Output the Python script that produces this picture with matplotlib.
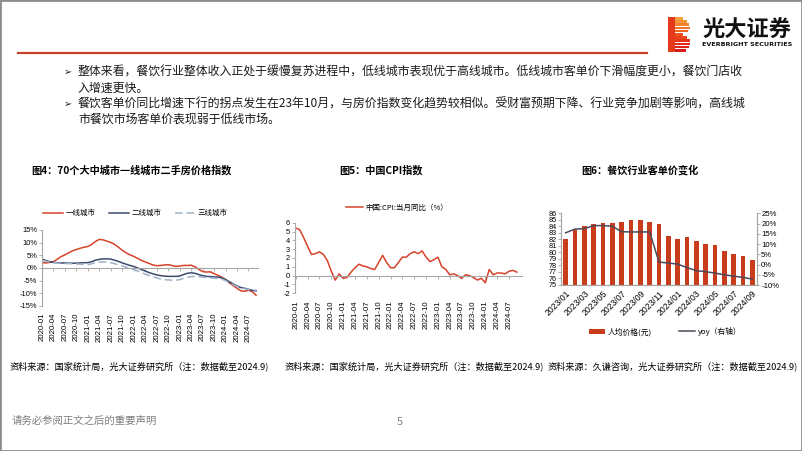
import numpy as np
import matplotlib.pyplot as plt
from matplotlib.lines import Line2D
from matplotlib.patches import Rectangle

plt.rcParams['font.family'] = ['Noto Sans CJK SC', 'DejaVu Sans']
plt.rcParams['axes.unicode_minus'] = False

W, H = 802, 451

# ---- 图4: 70城二手房价格指数 同比 (%) 2020-01 .. 2024-09
tier1 = [2.1, 2.0, 2.2, 2.5, 3.5, 4.5, 5.2, 6.0, 6.8, 7.3, 7.8, 8.2,
         8.5, 9.3, 10.5, 11.3, 11.1, 10.6, 10.1, 9.3, 8.2, 7.0, 6.0, 5.2,
         4.6, 3.8, 3.0, 2.4, 1.8, 1.2, 0.9, 1.0, 1.2, 1.3, 1.0, 0.6,
         0.8, 1.0, 1.0, 1.1, 0.5, -0.5, -1.4, -1.6, -1.5, -2.2, -2.9, -3.6,
         -4.5, -5.8, -7.0, -8.0, -9.0, -9.2, -8.8, -9.3, -10.8]
tier2 = [3.5, 3.0, 2.5, 2.2, 2.1, 2.0, 2.0, 1.9, 1.9, 1.9, 2.0, 2.1,
         2.1, 2.5, 3.1, 3.4, 3.6, 3.6, 3.5, 3.1, 2.6, 2.0, 1.5, 1.0,
         0.6, 0.0, -0.6, -1.2, -1.8, -2.3, -2.7, -3.0, -3.2, -3.3, -3.3, -3.3,
         -3.2, -2.6, -2.1, -1.9, -2.1, -2.6, -3.0, -3.3, -3.4, -3.5, -3.6, -3.9,
         -4.6, -5.4, -6.3, -7.1, -7.7, -8.0, -8.4, -8.8, -9.0]
tier3 = [3.0, 2.7, 2.4, 2.1, 2.0, 1.9, 1.8, 1.7, 1.7, 1.6, 1.5, 1.4,
         1.3, 1.7, 2.1, 2.3, 2.4, 2.3, 2.1, 1.7, 1.2, 0.8, 0.3, -0.2,
         -0.6, -1.2, -1.8, -2.4, -3.0, -3.5, -3.9, -4.3, -4.6, -4.7, -4.8, -4.8,
         -4.6, -4.1, -3.7, -3.4, -3.3, -3.4, -3.6, -3.8, -3.9, -4.0, -4.1, -4.4,
         -5.0, -5.8, -6.6, -7.3, -7.8, -8.2, -8.5, -8.9, -9.2]

# ---- 图5: 中国CPI当月同比 (%) 2020-01 .. 2024-09
cpi = [5.4, 5.2, 4.3, 3.3, 2.4, 2.5, 2.7, 2.4, 1.7, 0.5, -0.5, 0.2,
       -0.3, -0.2, 0.4, 0.9, 1.3, 1.1, 1.0, 0.8, 0.7, 1.5, 2.3, 1.5,
       0.9, 0.9, 1.5, 2.1, 2.1, 2.5, 2.7, 2.5, 2.8, 2.1, 1.6, 1.8,
       2.1, 1.0, 0.7, 0.1, 0.2, 0.0, -0.3, 0.1, 0.0, -0.2, -0.5, -0.3,
       -0.8, 0.7, 0.1, 0.3, 0.3, 0.2, 0.5, 0.6, 0.4]

quarter_labels = ['2020-01', '2020-04', '2020-07', '2020-10', '2021-01', '2021-04',
                  '2021-07', '2021-10', '2022-01', '2022-04', '2022-07', '2022-10',
                  '2023-01', '2023-04', '2023-07', '2023-10', '2024-01', '2024-04',
                  '2024-07']

# ---- 图6: 餐饮行业客单价 2023/01 .. 2024/09
price = [82.0, 83.5, 84.1, 84.4, 84.5, 84.5, 84.7, 85.0, 85.0, 84.7, 84.3,
         82.5, 82.1, 82.4, 81.7, 81.3, 81.1, 80.2, 79.8, 79.4, 78.9]
yoy = [15.5, 17.3, 17.5, 19.0, 19.0, 18.7, 16.0, 15.9, 15.9, 15.9, 1.2,
       0.7, 0.2, -1.5, -3.0, -3.5, -4.2, -5.0, -5.7, -6.3, -7.1]
month3_labels = ['2023/01', '2023/03', '2023/05', '2023/07', '2023/09', '2023/11',
                 '2024/01', '2024/03', '2024/05', '2024/07', '2024/09']

RED = '#D6422B'
NAVY = '#3C4A6B'
LBLUE = '#9DB3C9'
BAR = '#C83C1C'
GREYLINE = '#4A4A5A'
AX = '#A6A6A6'
TICKFONT = 'Liberation Sans'


def rect(l, t, r, b):
    return [l / W, 1 - b / H, (r - l) / W, (b - t) / H]


def ftext(x, y, s, **kw):
    fig.text(x / W, 1 - y / H, s, **kw)


fig = plt.figure(figsize=(8.02, 4.51), dpi=100)

# slide frame, header line
fig.patches.append(Rectangle((0, 0), 1, 1, transform=fig.transFigure, fill=False,
                             lw=2, ec='#8c8c8c'))
fig.lines.append(Line2D([18 / W, 647 / W], [1 - 53 / H, 1 - 53 / H],
                        transform=fig.transFigure, color='#C8412B', lw=1.6))

# logo
stripe_w = [15, 19, 21, 22, 20, 15, 19, 22, 22, 21, 18]
stripe_c = ['#F6A23F', '#F49236', '#F2822F', '#F07229', '#EE6224', '#EC5220',
            '#EA441D', '#E6371B', '#E22C1B', '#DE231B', '#D91D1B']
for i, (w_, c_) in enumerate(zip(stripe_w, stripe_c)):
    top = 17 + i * 3.2
    fig.patches.append(Rectangle((668 / W, 1 - (top + 2.5) / H), w_ / W, 2.5 / H,
                                 transform=fig.transFigure, color=c_, lw=0))
fig.patches.append(Rectangle((668 / W, 1 - 52 / H), 7 / W, 35 / H,
                             transform=fig.transFigure, color='#E5391C', lw=0))
ftext(702, 30, '光大证券', fontsize=16, fontweight='bold', va='center', color='#111111')
ftext(702, 45, 'EVERBRIGHT SECURITIES', fontsize=4.6, fontweight='bold', va='center',
      family='DejaVu Sans', color='#111111')

# bullets
bullets = [
    (72, '➢', '整体来看，餐饮行业整体收入正处于缓慢复苏进程中，低线城市表现优于高线城市。低线城市客单价下滑幅度更小，餐饮门店收'),
    (88, None, '入增速更快。'),
    (104, '➢', '餐饮客单价同比增速下行的拐点发生在23年10月，与房价指数变化趋势较相似。受财富预期下降、行业竞争加剧等影响，高线城'),
    (119, None, '市餐饮市场客单价表现弱于低线市场。'),
]
for y, b, s in bullets:
    if b:
        ftext(64, y, b, fontsize=7, va='center', family=['DejaVu Sans'], color='#222222')
    ftext(78, y, s, fontsize=8.6, va='center', color='#1a1a1a')

# chart titles
ftext(131, 170, '图4：70个大中城市一线城市二手房价格指数', fontsize=7.3, fontweight='bold',
      ha='center', va='center')
ftext(381, 170, '图5：中国CPI指数', fontsize=7.3, fontweight='bold', ha='center', va='center')
ftext(640, 170, '图6：餐饮行业客单价变化', fontsize=7.3, fontweight='bold', ha='center',
      va='center')


def style_line_axis(ax, ymin, ymax, yticks, ylabels):
    ax.set_ylim(ymin, ymax)
    ax.set_yticks(yticks)
    ax.set_yticklabels(ylabels, family=TICKFONT, fontsize=5.4)
    ax.spines[['top', 'right']].set_visible(False)
    ax.spines['bottom'].set_position(('data', 0))
    for sp in ('left', 'bottom'):
        ax.spines[sp].set_color(AX)
        ax.spines[sp].set_linewidth(0.8)
    ax.set_xticks(np.arange(0, 57, 3))
    ax.tick_params(axis='x', labelbottom=False, direction='out', length=2.5,
                   color=AX, width=0.6)
    ax.tick_params(axis='y', length=2, color=AX, width=0.6, pad=1.5)
    ax.patch.set_alpha(0)
    sec = ax.secondary_xaxis(0)
    sec.set_ticks(np.arange(0, 57, 3), labels=quarter_labels)
    sec.spines['bottom'].set_visible(False)
    sec.tick_params(length=0, pad=5)
    for t in sec.get_xticklabels():
        t.set_rotation(90)
        t.set_fontsize(5.6)
        t.set_family(TICKFONT)


x = np.arange(len(tier1))

# ---- chart 4
ax1 = fig.add_axes(rect(42, 230, 258, 306))
ax1.plot(x, tier1, color=RED, lw=1.1, label='一线城市')
ax1.plot(x, tier2, color=NAVY, lw=1.1, label='二线城市')
ax1.plot(x, tier3, color=LBLUE, lw=1.1, ls=(0, (5, 2.5)), label='三线城市')
ax1.set_xlim(0, 56.5)
style_line_axis(ax1, -15, 15, [-15, -10, -5, 0, 5, 10, 15],
                ['-15%', '-10%', '-5%', '0%', '5%', '10%', '15%'])
ax1.legend(loc='center', bbox_to_anchor=(0.43, 1.22), ncol=3, frameon=False,
           fontsize=5.4, handlelength=2.7, columnspacing=1.8, handletextpad=0.3)

# ---- chart 5
ax2 = fig.add_axes(rect(295, 222.7, 522, 293.3))
ax2.plot(x, cpi, color=RED, lw=1.1, label='中国:CPI:当月同比（%）')
ax2.set_xlim(-0.2, 57.3)
style_line_axis(ax2, -2, 6, list(range(-2, 7)), [str(v) for v in range(-2, 7)])
ax2.legend(loc='center', bbox_to_anchor=(0.45, 1.21), frameon=False, fontsize=5.4,
           handlelength=2.2, handletextpad=0.3)

# ---- chart 6
x3 = np.arange(len(price))
ax3 = fig.add_axes(rect(561, 213.3, 757, 285))
bars = ax3.bar(x3, price, width=0.48, color=BAR, label='人均价格(元)')
ax3.set_ylim(75, 86)
ax3.set_xlim(-0.5, 20.5)
ax3.set_yticks(range(75, 87))
ax3.set_yticklabels([str(v) for v in range(75, 87)], family=TICKFONT, fontsize=5.2)
ax3.set_xticks(np.arange(0, 21, 2))
ax3.set_xticklabels(month3_labels, rotation=45, ha='right', rotation_mode='anchor',
                    family=TICKFONT, fontsize=6.2)
ax3.tick_params(axis='x', length=0, pad=3)
ax3.tick_params(axis='y', length=2, color=AX, width=0.6, pad=1)
ax3b = ax3.twinx()
line, = ax3b.plot(x3, yoy, color=GREYLINE, lw=1.1, label='yoy（右轴）')
ax3b.set_ylim(-10, 25)
ax3b.set_yticks(range(-10, 30, 5))
ax3b.set_yticklabels([f'{v}%' for v in range(-10, 30, 5)], family=TICKFONT, fontsize=5.6)
ax3b.tick_params(axis='y', length=2, color=AX, width=0.6, pad=1)
for a in (ax3, ax3b):
    a.spines['top'].set_visible(False)
    for sp in ('left', 'right', 'bottom'):
        a.spines[sp].set_color(AX)
        a.spines[sp].set_linewidth(0.8)
ax3.legend([bars, line], ['人均价格(元)', 'yoy（右轴）'], loc='center',
           bbox_to_anchor=(0.53, -0.65), ncol=2, frameon=False, fontsize=5.6,
           handlelength=2.1, columnspacing=3.5, handletextpad=0.3)

# sources / footer
src = '资料来源：国家统计局，光大证券研究所（注：数据截至2024.9)'
ftext(10, 366, src, fontsize=6.6, va='center')
ftext(285, 366, src, fontsize=6.6, va='center')
ftext(548, 366, '资料来源：久谦咨询，光大证券研究所（注：数据截至2024.9)', fontsize=6.6,
      va='center')
ftext(12, 421, '请务必参阅正文之后的重要声明', fontsize=7.5, va='center', color='#7f7f7f')
ftext(400, 422, '5', fontsize=8, va='center', ha='center', color='#7f7f7f')

fig.savefig('out.png', dpi=100)
